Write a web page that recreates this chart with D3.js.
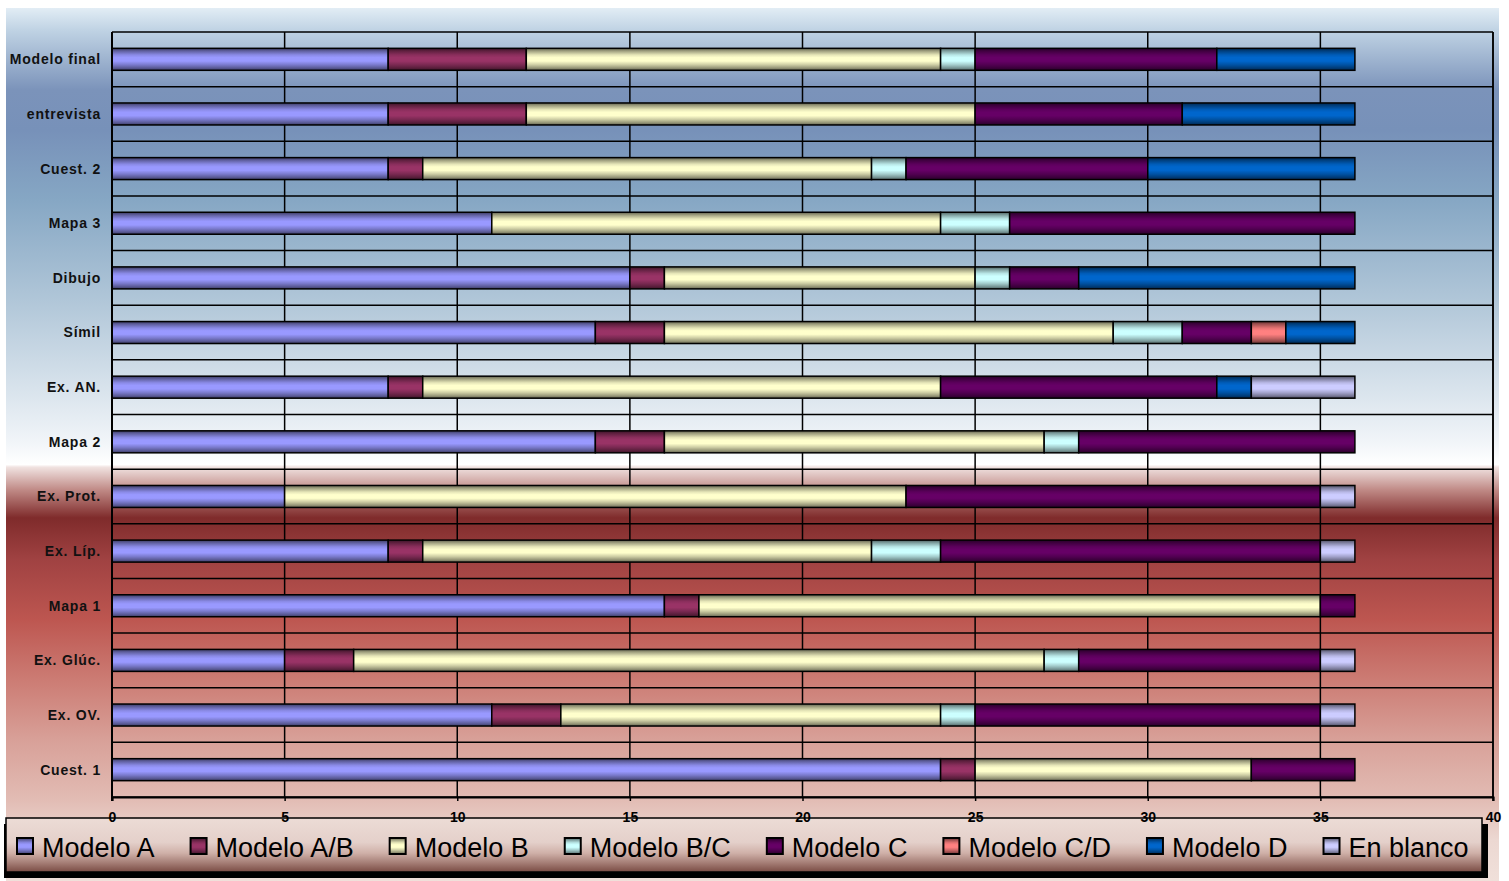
<!DOCTYPE html>
<html>
<head>
<meta charset="utf-8">
<script src="https://cdn.jsdelivr.net/npm/d3@7/dist/d3.min.js"></script>
<style>
html,body{margin:0;padding:0;background:#fff;}
svg{display:block;}
text{font-family:Arial,"Liberation Sans",sans-serif;}
</style>
</head>
<body>
<svg id="chart" width="1509" height="881"></svg>
<script>
// ---- data ----
const categories = ["Modelo final","entrevista","Cuest. 2","Mapa 3","Dibujo","Símil","Ex. AN.","Mapa 2","Ex. Prot.","Ex. Líp.","Mapa 1","Ex. Glúc.","Ex. OV.","Cuest. 1"];
const seriesNames = ["Modelo A","Modelo A/B","Modelo B","Modelo B/C","Modelo C","Modelo C/D","Modelo D","En blanco"];
const seriesColors = ["#9999ff","#993366","#ffffcc","#ccffff","#660066","#ff8080","#0066cc","#ccccff"];
const modeloA   = [8, 8, 8, 11, 15, 14, 8, 14, 5, 8, 16, 5, 11, 24];
const modeloAB  = [4, 4, 1, 0, 1, 2, 1, 2, 0, 1, 1, 2, 2, 1];
const modeloB   = [12, 13, 13, 13, 9, 13, 15, 11, 18, 13, 18, 20, 11, 8];
const modeloBC  = [1, 0, 1, 2, 1, 2, 0, 1, 0, 2, 0, 1, 1, 0];
const modeloC   = [7, 6, 7, 10, 2, 2, 8, 8, 12, 11, 1, 7, 10, 3];
const modeloCD  = [0, 0, 0, 0, 0, 1, 0, 0, 0, 0, 0, 0, 0, 0];
const modeloD   = [4, 5, 6, 0, 8, 2, 1, 0, 0, 0, 0, 0, 0, 0];
const enBlanco  = [0, 0, 0, 0, 0, 0, 3, 0, 1, 1, 0, 1, 1, 0];
const xTicks = [0, 5, 10, 15, 20, 25, 30, 35, 40];

const seriesValues = [modeloA, modeloAB, modeloB, modeloBC, modeloC, modeloCD, modeloD, enBlanco];
const table = categories.map((c, i) => {
  const row = {cat: c};
  seriesNames.forEach((s, j) => row[s] = seriesValues[j][i]);
  return row;
});

// ---- layout ----
const svg = d3.select("#chart");
const plot = {left: 112, right: 1493, top: 32, bottom: 797};
const barH = 22;

const x = d3.scaleLinear().domain([0, 40]).range([plot.left, plot.right]);
const y = d3.scaleBand().domain(categories).range([plot.top, plot.bottom]).padding(0);

const defs = svg.append("defs");

// background gradient
const bg = defs.append("linearGradient").attr("id", "bgGrad")
  .attr("x1", 0).attr("y1", 0).attr("x2", 0).attr("y2", 1);
const bgStops = [
  [0, "#e2edf5"], [0.025, "#c0d3e4"], [0.094, "#7b93ba"], [0.14, "#7791b9"],
  [0.22, "#86a7c4"], [0.334, "#b0c6d8"], [0.426, "#d4e0ea"], [0.495, "#f0f4f8"],
  [0.523, "#ffffff"], [0.526, "#f0e2e0"], [0.552, "#c08a86"], [0.584, "#7f2b2b"],
  [0.632, "#a04242"], [0.70, "#bd5650"], [0.77, "#cc7c74"], [0.838, "#d8a098"],
  [0.907, "#e2bcb4"], [0.953, "#ecd8d2"], [1, "#f0e0da"]
];
bgStops.forEach(s => bg.append("stop").attr("offset", s[0]).attr("stop-color", s[1]));

// legend gradient
const lg = defs.append("linearGradient").attr("id", "legGrad")
  .attr("x1", 0).attr("y1", 0).attr("x2", 0).attr("y2", 1);
[[0, "#ecdcd6"], [0.45, "#e4d0ca"], [0.65, "#cfb0a8"], [0.85, "#a07870"], [1, "#7a4c44"]]
  .forEach(s => lg.append("stop").attr("offset", s[0]).attr("stop-color", s[1]));

// bar gradients (cylinder shading)
const shade = [[0, 0.62], [0.12, 0.38], [0.3, 0.1], [0.42, 0], [0.58, 0], [0.75, 0.2], [0.9, 0.42], [1, 0.62]];
seriesColors.forEach((c, i) => {
  const g = defs.append("linearGradient").attr("id", "bar" + i)
    .attr("x1", 0).attr("y1", 0).attr("x2", 0).attr("y2", 1);
  shade.forEach(s => g.append("stop").attr("offset", s[0])
    .attr("stop-color", d3.interpolateRgb(c, "#000")(s[1])));
});

// chart area background
svg.append("rect").attr("x", 6).attr("y", 8).attr("width", 1493).attr("height", 873)
  .attr("fill", "url(#bgGrad)");

// gridlines
const grid = svg.append("g").attr("stroke", "#000").attr("stroke-width", 1.5);
grid.selectAll("line.v").data(xTicks).join("line").attr("class", "v")
  .attr("x1", d => x(d)).attr("x2", d => x(d))
  .attr("y1", plot.top).attr("y2", plot.bottom);
const hLines = categories.map(c => y(c)).concat([plot.bottom]);
grid.selectAll("line.h").data(hLines).join("line").attr("class", "h")
  .attr("x1", plot.left).attr("x2", plot.right)
  .attr("y1", d => d).attr("y2", d => d);

// bars
const stack = d3.stack().keys(seriesNames)(table);
const barsG = svg.append("g");
stack.forEach((layer, si) => {
  barsG.append("g")
    .selectAll("rect")
    .data(layer.filter(d => d[1] - d[0] > 0))
    .join("rect")
    .attr("x", d => x(d[0]))
    .attr("width", d => x(d[1]) - x(d[0]))
    .attr("y", d => y(d.data.cat) + (y.bandwidth() - barH) / 2)
    .attr("height", barH)
    .attr("fill", "url(#bar" + si + ")")
    .attr("stroke", "#000")
    .attr("stroke-width", 1.5);
});

// left axis line
svg.append("line").attr("x1", plot.left).attr("x2", plot.left)
  .attr("y1", plot.top).attr("y2", plot.bottom + 4)
  .attr("stroke", "#000").attr("stroke-width", 2);

// category labels
svg.append("g").selectAll("text").data(categories).join("text")
  .attr("x", 101)
  .attr("y", d => y(d) + y.bandwidth() / 2)
  .attr("dy", "0.35em")
  .attr("text-anchor", "end")
  .style("font-size", "14px")
  .attr("font-weight", "bold")
  .attr("letter-spacing", "0.8px")
  .attr("fill", "#111")
  .text(d => d);

// legend shadow and box
svg.append("rect").attr("x", 4).attr("y", 824).attr("width", 1484).attr("height", 54).attr("fill", "#000");
svg.append("rect").attr("x", 6).attr("y", 818).attr("width", 1476).attr("height", 54)
  .attr("fill", "url(#legGrad)").attr("stroke", "#000").attr("stroke-width", 1.5);

// legend items
const legG = svg.append("g");
let lx = 17;
seriesNames.forEach((s, i) => {
  legG.append("rect").attr("x", lx).attr("y", 838).attr("width", 16).attr("height", 16)
    .attr("fill", "url(#bar" + i + ")").attr("stroke", "#000").attr("stroke-width", 2);
  const t = legG.append("text").attr("x", lx + 25).attr("y", 857)
    .style("font-size", "27px").attr("fill", "#000").text(s);
  lx += 25 + t.node().getComputedTextLength() + 36;
});

// x axis (ticks + labels)
const xAxis = d3.axisBottom(x).tickValues(xTicks).tickSize(4).tickPadding(11).tickFormat(d3.format("d"));
const axG = svg.append("g").attr("transform", `translate(0,${plot.bottom})`).call(xAxis);
axG.attr("font-size", null).attr("font-family", null);
axG.select(".domain").attr("stroke", "#000").attr("stroke-width", 2);
axG.selectAll(".tick line").attr("stroke", "#000").attr("stroke-width", 1.5);
axG.selectAll(".tick text")
  .style("font-size", "14px").style("font-weight", "bold")
  .style("font-family", "Arial, 'Liberation Sans', sans-serif")
  .attr("fill", "#000");

// plot border right
svg.append("line").attr("x1", plot.right).attr("x2", plot.right).attr("y1", plot.top).attr("y2", plot.bottom + 4)
  .attr("stroke", "#000").attr("stroke-width", 1.5);
</script>
</body>
</html>
